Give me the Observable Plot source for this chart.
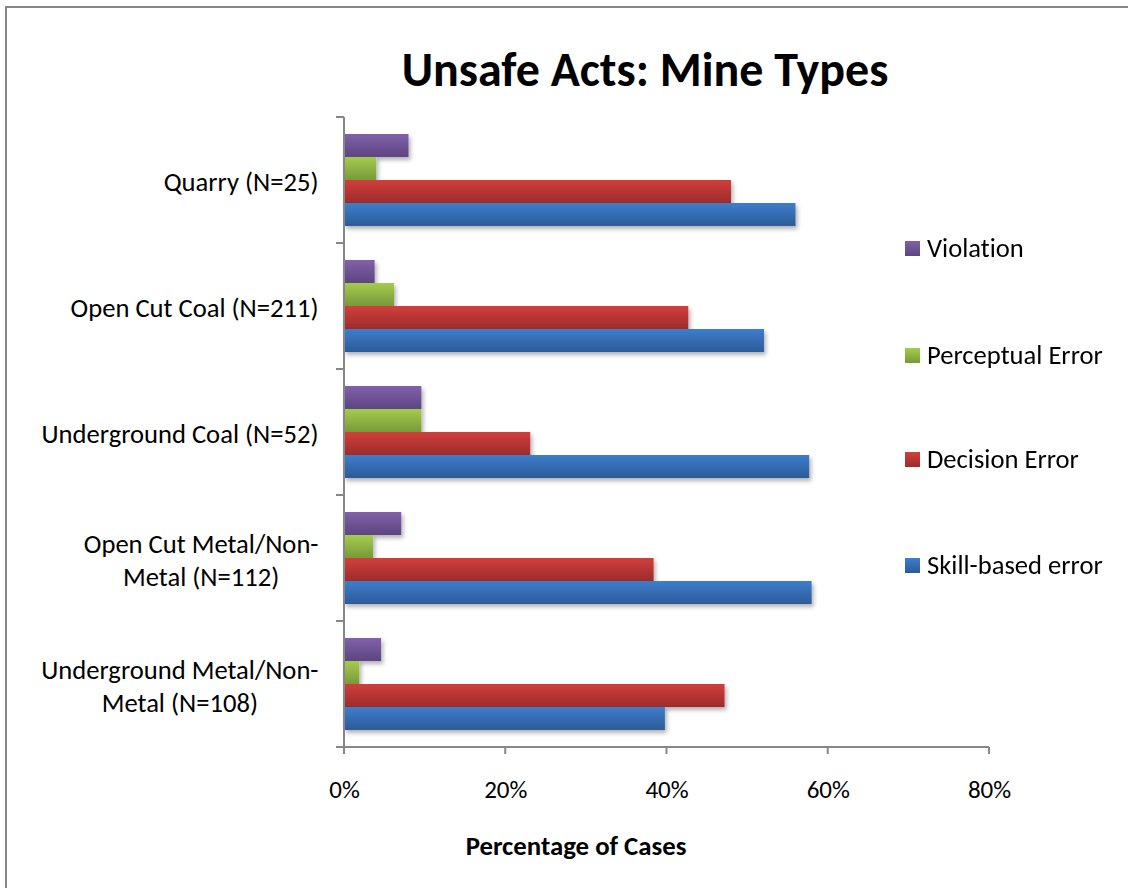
<!DOCTYPE html>
<html>
<head>
<meta charset="utf-8">
<script src="https://cdn.jsdelivr.net/npm/d3@7"></script>
<script src="https://cdn.jsdelivr.net/npm/@observablehq/plot@0.6"></script>
<style>
  html, body { margin: 0; padding: 0; background: #fff; }
  body { width: 1128px; height: 888px; position: relative; overflow: hidden; font-family: Carlito, Calibri, Lato, sans-serif; font-variant-ligatures: none; }
  svg text { font-variant-ligatures: none; }
  #frame { position: absolute; left: 5px; top: 6px; width: 1200px; height: 1000px; border-left: 2px solid #878787; border-top: 2px solid #878787; }
  #title { position: absolute; left: 645px; top: 46px; transform: translateX(-50%); font-weight: bold; font-size: 48px; line-height: 1; white-space: nowrap; color: #000; }
  #xlabel { position: absolute; left: 576px; top: 833px; transform: translateX(-50%); font-weight: bold; font-size: 26.8px; line-height: 1; white-space: nowrap; color: #000; }
  #chart { position: absolute; left: 0; top: 100px; }
  #legend { position: absolute; left: 905px; top: 0; }
  .li { position: absolute; left: 0; display: flex; align-items: center; white-space: nowrap; font-size: 26.6px; color: #000; transform: translateY(-50%); }
  .sw { width: 15px; height: 15px; margin-right: 7px; }
</style>
</head>
<body>
<div id="frame"></div>
<div id="title">Unsafe Acts: Mine Types</div>
<div id="chart"></div>
<div id="legend"></div>
<div id="xlabel">Percentage of Cases</div>
<script>
// ---- data ----
const mines = ["Quarry (N=25)", "Open Cut Coal (N=211)", "Underground Coal (N=52)", "Open Cut Metal/Non-Metal (N=112)", "Underground Metal/Non-Metal (N=108)"];
const mineLabels = ["Quarry (N=25)", "Open Cut Coal (N=211)", "Underground Coal (N=52)", "Open Cut Metal/Non-\nMetal (N=112)", "Underground Metal/Non-\nMetal (N=108)"];
const series = ["Violation", "Perceptual Error", "Decision Error", "Skill-based error"];
const violation  = [8.0, 3.8, 9.6, 7.1, 4.6];
const perceptual = [4.0, 6.2, 9.6, 3.6, 1.9];
const decision   = [48.0, 42.7, 23.1, 38.4, 47.2];
const skill      = [56.0, 52.1, 57.7, 58.0, 39.8];
const xTicks = [0, 20, 40, 60, 80];
const colorTop = ["#8161ab", "#a5cc4c", "#d13f3c", "#3d7ecd"];
const colorBottom = ["#5d4580", "#779a38", "#9e2b2a", "#2c5b98"];
const legendY = [248, 355, 459, 565];

const valuesBySeries = [violation, perceptual, decision, skill];
const rows = [];
mines.forEach((m, i) => series.forEach((s, j) => rows.push({mine: m, series: s, value: valuesBySeries[j][i]})));
const labelOf = new Map(mines.map((m, i) => [m, mineLabels[i]]));

const font = "Carlito, Calibri, Lato, sans-serif";
const W = 1128, H = 788;
const plot = Plot.plot({
  width: W, height: H,
  marginLeft: 344, marginRight: 139, marginTop: 17, marginBottom: 141,
  style: {fontFamily: font, fontSize: "26px", color: "#000", background: "transparent"},
  x: {domain: [0, 80], ticks: xTicks, tickFormat: d => d + "%", label: null},
  y: {domain: series, padding: 0, axis: null},
  fy: {domain: mines, paddingInner: 0.27, paddingOuter: 0.135, label: null},
  color: {domain: series, range: series.map((s, j) => `url(#grad${j})`)},
  marks: [
    Plot.barX(rows, {x: "value", y: "series", fy: "mine", fill: "series"}),
    Plot.axisX({ticks: xTicks, tickFormat: d => d + "%", tickSize: 0, tickPadding: 50, label: null, fontSize: 25}),
    Plot.axisFy({anchor: "left", tickSize: 0, tickPadding: 26, tickFormat: d => labelOf.get(d), label: null, fontSize: 26.6, lineHeight: 1.25})
  ]
});
document.getElementById("chart").appendChild(plot);

const svg = d3.select(plot);
const defs = svg.insert("defs", ":first-child");
colorTop.forEach((c, j) => {
  const g = defs.append("linearGradient").attr("id", `grad${j}`).attr("x1", 0).attr("y1", 0).attr("x2", 0).attr("y2", 1);
  g.append("stop").attr("offset", "0%").attr("stop-color", c);
  g.append("stop").attr("offset", "100%").attr("stop-color", colorBottom[j]);
});
const f = defs.append("filter").attr("id", "shadow").attr("x", "-10%").attr("y", "-30%").attr("width", "130%").attr("height", "180%");
f.append("feDropShadow").attr("dx", 2).attr("dy", 3).attr("stdDeviation", 2).attr("flood-color", "#000").attr("flood-opacity", 0.3);
svg.selectAll('g[aria-label="bar"]').attr("filter", "url(#shadow)");

// axis lines and tick marks from the plot's own scales
const xs = plot.scale("x"), fys = plot.scale("fy");
const x0 = xs.apply(0);
const gap = (fys.step - fys.bandwidth);
const yTop = fys.apply(mines[0]) - gap / 2;
const yBot = fys.apply(mines[mines.length - 1]) + fys.bandwidth + gap / 2;
const ax = svg.append("g").attr("stroke", "#878787").attr("stroke-width", 2);
ax.append("line").attr("x1", x0).attr("x2", xs.apply(80)).attr("y1", yBot).attr("y2", yBot);
ax.append("line").attr("x1", x0).attr("x2", x0).attr("y1", yTop).attr("y2", yBot);
mines.forEach((m, i) => {
  const yb = fys.apply(m) - gap / 2;
  ax.append("line").attr("x1", x0 - 8).attr("x2", x0).attr("y1", yb).attr("y2", yb);
});
ax.append("line").attr("x1", x0 - 8).attr("x2", x0).attr("y1", yBot).attr("y2", yBot);
xTicks.forEach(t => {
  ax.append("line").attr("x1", xs.apply(t)).attr("x2", xs.apply(t)).attr("y1", yBot).attr("y2", yBot + 7);
});

// center the lines of wrapped category labels
svg.selectAll('g[aria-label="fy-axis tick label"] text').each(function() {
  const t = d3.select(this);
  if (t.selectAll("tspan").size() > 1) {
    const b0 = this.getBBox();
    t.attr("text-anchor", "middle");
    const b1 = this.getBBox();
    const delta = (b0.x + b0.width / 2) - (b1.x + b1.width / 2);
    const tr = t.attr("transform") || "";
    t.attr("transform", tr + ` translate(${delta},0)`);
  }
});

// legend
const leg = d3.select("#legend");
series.forEach((s, j) => {
  const item = leg.append("div").attr("class", "li").style("top", legendY[j] + "px");
  item.append("div").attr("class", "sw").style("background", `linear-gradient(${colorTop[j]}, ${colorBottom[j]})`);
  item.append("span").text(s);
});
</script>
</body>
</html>
